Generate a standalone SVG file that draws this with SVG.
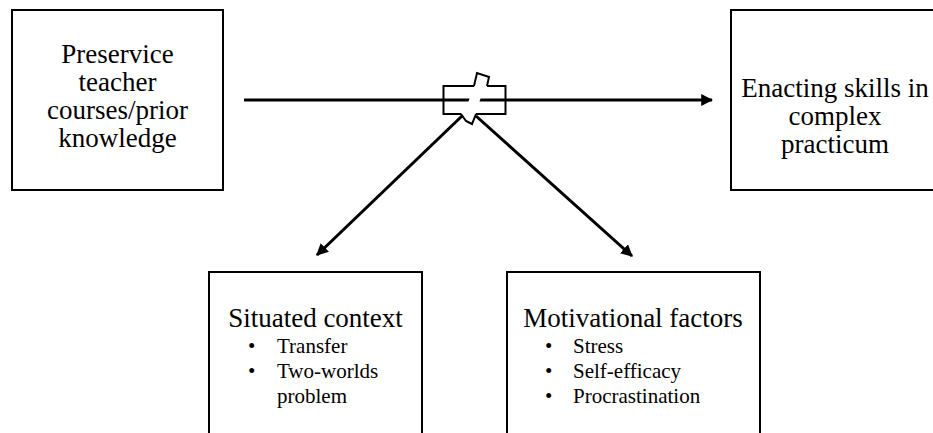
<svg xmlns="http://www.w3.org/2000/svg" width="933" height="433" viewBox="0 0 933 433">
<style>
.box{fill:#fff;stroke:#000;stroke-width:2}
.t{font-family:"Liberation Serif","Times New Roman",serif;fill:#000}
.big{font-size:27px}
.sm{font-size:21px}
.ln{stroke:#000;stroke-width:3;fill:none}
</style>
<defs>
<marker id="ah" viewBox="0 0 10 10" refX="9" refY="5" markerWidth="4" markerHeight="4" orient="auto" markerUnits="strokeWidth">
<path d="M0,0 L10,5 L0,10 z" fill="#000"/>
</marker>
</defs>
<rect width="933" height="433" fill="#fff"/>
<g id="node-preservice">
<rect class="box" x="12" y="10" width="211" height="180"/>
<text class="t big" text-anchor="middle" x="117.5" y="63">Preservice</text>
<text class="t big" text-anchor="middle" x="117.5" y="91">teacher</text>
<text class="t big" text-anchor="middle" x="117.5" y="119">courses/prior</text>
<text class="t big" text-anchor="middle" x="117.5" y="147">knowledge</text>
</g>
<g id="node-enacting">
<rect class="box" x="731" y="10" width="215" height="180"/>
<text class="t big" text-anchor="middle" x="835" y="97">Enacting skills in</text>
<text class="t big" text-anchor="middle" x="835" y="125">complex</text>
<text class="t big" text-anchor="middle" x="835" y="153">practicum</text>
</g>
<g id="node-situated">
<rect class="box" x="209" y="272" width="213" height="180"/>
<text class="t big" text-anchor="middle" x="315.5" y="327">Situated context</text>
<text class="t sm" x="248" y="353">•</text>
<text class="t sm" x="277" y="353">Transfer</text>
<text class="t sm" x="248" y="378">•</text>
<text class="t sm" x="277" y="378">Two-worlds</text>
<text class="t sm" x="277" y="403">problem</text>
</g>
<g id="node-motivational">
<rect class="box" x="507" y="272" width="253" height="180"/>
<text class="t big" text-anchor="middle" x="633" y="327">Motivational factors</text>
<text class="t sm" x="545" y="353">•</text>
<text class="t sm" x="573" y="353">Stress</text>
<text class="t sm" x="545" y="378">•</text>
<text class="t sm" x="573" y="378">Self-efficacy</text>
<text class="t sm" x="545" y="403">•</text>
<text class="t sm" x="573" y="403">Procrastination</text>
</g>
<g id="connectors">
<line class="ln" x1="244" y1="100" x2="712" y2="100" marker-end="url(#ah)"/>
<line class="ln" x1="462" y1="116" x2="317" y2="255" marker-end="url(#ah)"/>
<line class="ln" x1="476" y1="116" x2="632" y2="256" marker-end="url(#ah)"/>
<g id="break-symbol">
<rect x="443.5" y="86" width="62" height="28" fill="none" stroke="#000" stroke-width="2"/>
<polygon points="470,97 481,97 479,103 468,103" fill="#fff"/>
<polygon points="474,87 477,73 489,77 487,87" fill="#fff" stroke="none"/>
<polyline points="474,86 477,73 489,77 487,86" fill="none" stroke="#000" stroke-width="2"/>
<polygon points="461,113 466,121 472,124 476,113" fill="#fff" stroke="none"/>
<polyline points="461,114 466,121 472,124 476,114" fill="none" stroke="#000" stroke-width="2"/>
</g>
</g>
</svg>
